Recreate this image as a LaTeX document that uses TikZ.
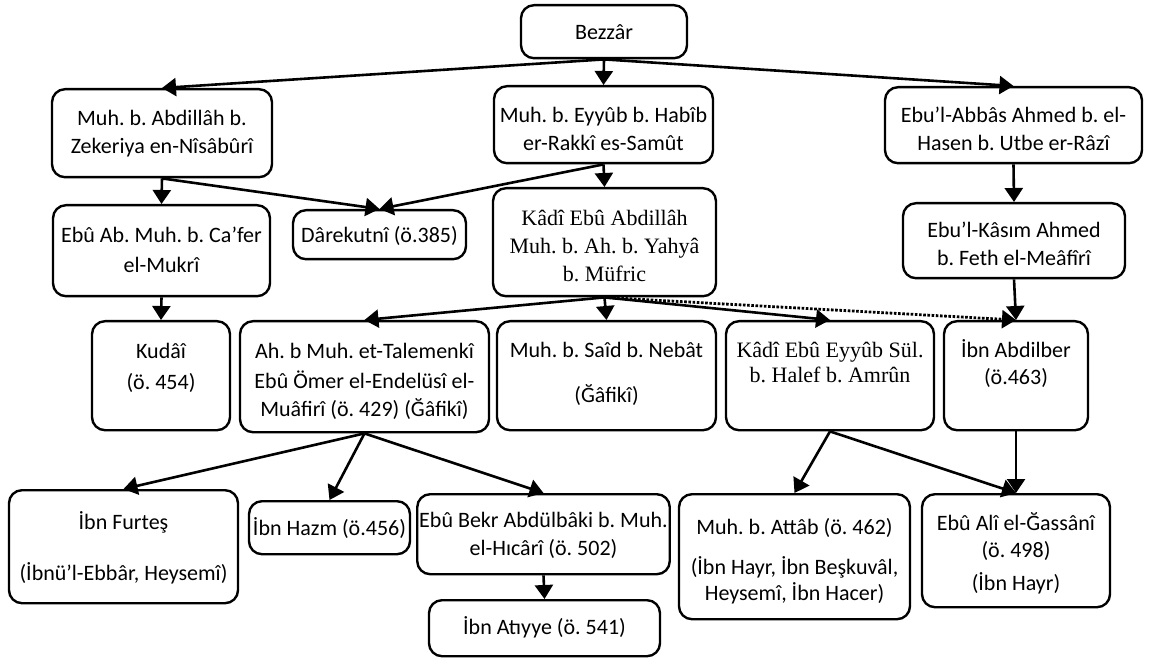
\documentclass[tikz,border=0pt]{standalone}
\usepackage{fontspec}
\setmainfont{Carlito}
\newfontfamily\tnr{Liberation Serif}
\usetikzlibrary{arrows.meta}
\frenchspacing
\newcommand\mlines[1]{\begin{tabular}[t]{@{}c@{}}#1\end{tabular}}
\begin{document}
\begin{tikzpicture}[x=1pt,y=-1pt,
  box/.style={draw, line width=2.4pt, rounded corners=13pt, fill=white,
    inner xsep=2pt, inner ysep=0pt, anchor=north,
    font=\fontsize{22}{28}\selectfont\frenchspacing},
  tbox/.style={box, font=\tnr\fontsize{22}{28}\selectfont\frenchspacing},
  arr/.style={line width=2.6pt, -{Triangle[length=14pt,width=18pt]}},
  dotarr/.style={arr, line width=2.8pt, dash pattern=on 2.6pt off 1.6pt},
]
\useasboundingbox (0,0) rectangle (1149,660);
% row 1
\node[box, minimum width=166pt, text height=34pt, text depth=19pt] (bez) at (604,4) {Bezzâr};
% row 2
\node[box, minimum width=220pt, text height=36pt, text depth=52pt] (abd) at (162,88)
  {\mlines{Muh. b. Abdillâh b.\\Zekeriya en-Nîsâbûrî}};
\node[box, minimum width=219pt, text height=36pt, text depth=41pt] (eyy) at (603.5,85)
  {\mlines{Muh. b. Eyyûb b. Habîb\\er-Rakkî es-Samût}};
\node[box, minimum width=257pt, text height=35pt, text depth=41pt] (abb) at (1013.5,86)
  {\mlines{Ebu’l-Abbâs Ahmed b. el-\\Hasen b. Utbe er-Râzî}};
% row 3
\node[box, minimum width=217pt, text height=37pt, text depth=54pt] (muk) at (161.5,204)
  {\mlines{Ebû Ab. Muh. b. Ca’fer\\[2pt]el-Mukrî}};
\node[box, minimum width=173pt, text height=32pt, text depth=17pt] (dar) at (379.5,209)
  {Dârekutnî (ö.385)};
\node[tbox, minimum width=223pt, text height=37pt, text depth=71pt] (muf) at (604.5,187)
  {\mlines{Kâdî Ebû Abdillâh\\Muh. b. Ah. b. Yahyâ\\b. Müfric}};
\node[box, minimum width=222pt, text height=34pt, text depth=41pt] (kas) at (1014,202)
  {\mlines{Ebu’l-Kâsım Ahmed\\b. Feth el-Meâfîrî}};
% row 4
\node[box, minimum width=138pt, text height=37pt, text depth=72pt] (kud) at (161,320)
  {\mlines{Kudâî\\[3pt](ö. 454)}};
\node[box, minimum width=249pt, text height=37pt, text depth=74pt] (tal) at (364.5,320)
  {\mlines{Ah. b Muh. et-Talemenkî\\[2pt]Ebû Ömer el-Endelüsî el-\\Muâfirî (ö. 429) (Ğâfikî)}};
\node[box, minimum width=219pt, text height=36pt, text depth=73pt] (neb) at (606.5,320)
  {\mlines{Muh. b. Saîd b. Nebât\\[17pt](Ğâfikî)}};
\node[tbox, minimum width=208pt, text height=36pt, text depth=73pt] (amr) at (830,320)
  {\mlines{Kâdî Ebû Eyyûb Sül.\\[-3pt]b. Halef b. Amrûn}};
\node[box, minimum width=144pt, text height=36pt, text depth=73pt] (ibr) at (1016,320)
  {\mlines{İbn Abdilber\\[-1pt](ö.463)}};
% row 5
\node[box, minimum width=229pt, text height=39pt, text depth=74pt] (fur) at (123.5,489)
  {\mlines{İbn Furteş\\[23pt](İbnü’l-Ebbâr, Heysemî)}};
\node[box, minimum width=161pt, text height=34pt, text depth=19pt] (haz) at (329.5,500)
  {İbn Hazm (ö.456)};
\node[box, minimum width=249pt, text height=33pt, text depth=47pt] (hic) at (543.5,493)
  {\mlines{Ebû Bekr Abdülbâki b. Muh.\\el-Hıcârî (ö. 502)}};
\node[box, minimum width=231pt, text height=34pt, text depth=22pt] (ati) at (544.5,599)
  {İbn Atıyye (ö. 541)};
\node[box, minimum width=231pt, text height=40pt, text depth=85pt] (att) at (794.5,493)
  {\mlines{Muh. b. Attâb (ö. 462)\\[12pt](İbn Hayr, İbn Beşkuvâl,\\[-2pt]Heysemî, İbn Hacer)}};
\node[box, minimum width=188pt, text height=36pt, text depth=77pt] (gas) at (1016,493)
  {\mlines{Ebû Alî el-Ğassânî\\[-1pt](ö. 498)\\[5pt](İbn Hayr)}};
% connectors
\draw[arr] (bez.south) -- (abd.north);
\draw[arr] (bez.south) -- (eyy.north);
\draw[arr] (bez.south) -- (abb.north);
\draw[arr] (abd.south) -- (muk.north);
\draw[arr] (abd.south) -- (dar.north);
\draw[arr] (eyy.south) -- (dar.north);
\draw[arr] (eyy.south) -- (muf.north);
\draw[arr] (abb.south) -- (kas.north);
\draw[arr] (muk.south) -- (kud.north);
\draw[arr] (muf.south) -- (tal.north);
\draw[arr] (muf.south) -- (neb.north);
\draw[arr] (muf.south) -- (amr.north);
\draw[dotarr] (muf.south) -- (ibr.north);
\draw[arr] (kas.south) -- (ibr.north);
\draw[arr] (tal.south) -- (fur.north);
\draw[arr] (tal.south) -- (haz.north);
\draw[arr] (tal.south) -- (hic.north);
\draw[arr] (hic.south) -- (ati.north);
\draw[arr] (amr.south) -- (att.north);
\draw[arr] (amr.south) -- (gas.north);
\draw[arr] (ibr.south) -- (gas.north);
\end{tikzpicture}
\end{document}
